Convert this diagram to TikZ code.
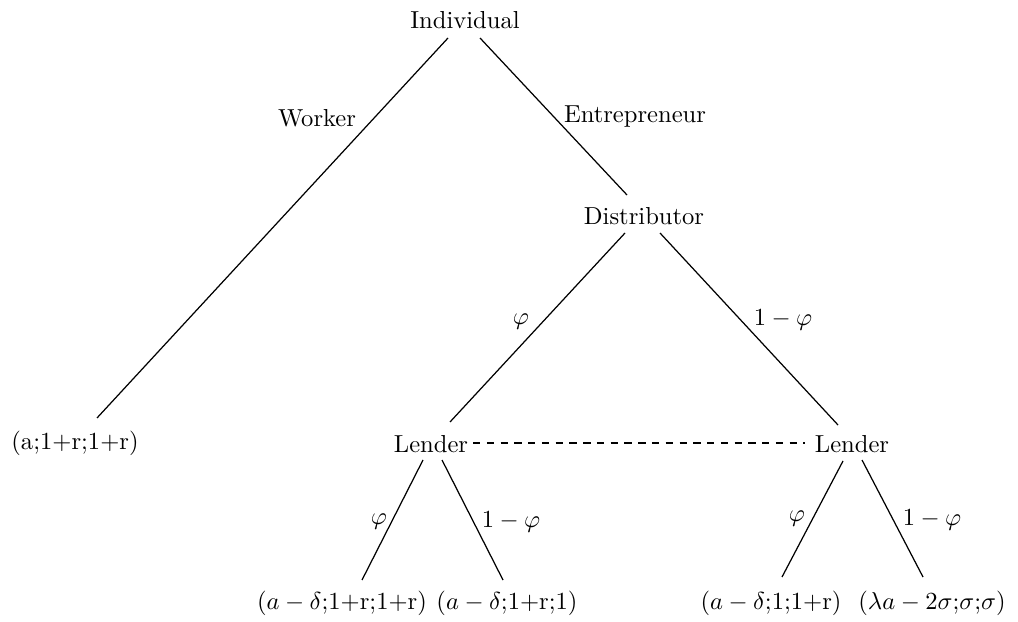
\documentclass[tikz,border=0pt]{standalone}
\usetikzlibrary{calc}
\begin{document}
\begin{tikzpicture}[x=0.01429cm,y=-0.01429cm,
  lab/.style={anchor=base,inner sep=0pt},
  edge/.style={line width=0.5pt},
  info/.style={dash pattern=on 3pt off 2.6pt,line width=0.5pt}]
\useasboundingbox (0,0) rectangle (1018,622);
% nodes
\node[lab] (ind)   at (465,29)  {Individual};
\node[lab] (dist)  at (644,225) {Distributor};
\node[lab] (leaf0) at (75,449)  {(a;1+r;1+r)};
\node[lab] (lenA)  at (431,452) {Lender};
\node[lab] (lenB)  at (852,452) {Lender};
\node[lab] (leaf1) at (342,609) {$(a-\delta$;1+r;1+r$)$};
\node[lab] (leaf2) at (507,609) {$(a-\delta$;1+r;1$)$};
\node[lab] (leaf3) at (771,609) {$(a-\delta$;1;1+r$)$};
\node[lab] (leaf4) at (932,609) {$(\lambda a-2\sigma$;$\sigma$;$\sigma)$};
% edge labels
\node[lab] (lw)  at (317,127) {Worker};
\node[lab] (le)  at (635,123) {Entrepreneur};
\node[lab] (p1)  at (521,325) {$\varphi$};
\node[lab] (q1)  at (783,326) {$1-\varphi$};
\node[lab] (p2)  at (379,524) {$\varphi$};
\node[lab] (q2)  at (511,527) {$1-\varphi$};
\node[lab] (p3)  at (797,521) {$\varphi$};
\node[lab] (q3)  at (932,525) {$1-\varphi$};
% connectors
\draw[edge] ($(ind.base)+(-17,9)$)  -- ($(leaf0.base)+(22,-31)$);
\draw[edge] ($(ind.base)+(15,9)$)   -- ($(dist.base)+(-17,-30)$);
\draw[edge] ($(dist.base)+(-19,8)$) -- ($(lenA.base)+(19,-30)$);
\draw[edge] ($(dist.base)+(16,8)$)  -- ($(lenB.base)+(-14,-27)$);
\draw[edge] ($(lenA.base)+(-8,8)$)  -- ($(leaf1.base)+(20,-29)$);
\draw[edge] ($(lenA.base)+(11,8)$)  -- ($(leaf2.base)+(-4,-29)$);
\draw[edge] ($(lenB.base)+(-9,9)$)  -- ($(leaf3.base)+(11,-32)$);
\draw[edge] ($(lenB.base)+(10,8)$)  -- ($(leaf4.base)+(-9,-32)$);
\draw[info] ($(lenA.base)+(42,-9)$) -- ($(lenB.base)+(-47,-9)$);
\end{tikzpicture}
\end{document}
